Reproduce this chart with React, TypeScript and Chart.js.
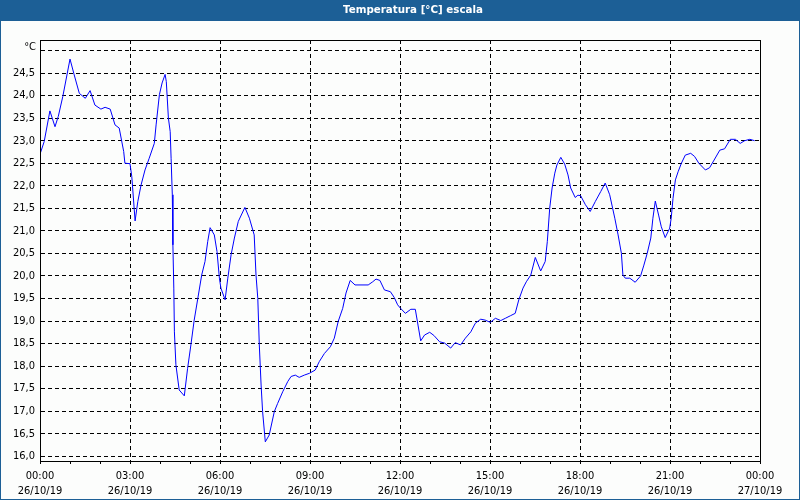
import React, { useEffect, useRef } from "react";
import { Chart, registerables } from "chart.js";

Chart.register(...registerables);

const TITLE = "Temperatura [°C] escala";
const UNIT_LABEL = "°C";
const DATE_START = "26/10/19";
const DATE_END = "27/10/19";

// hours since 26/10/19 00:00
const hours = [
  0.0, 0.14, 0.33, 0.5, 0.61, 0.76, 1.0, 1.14, 1.31, 1.51, 1.67, 1.83, 2.03, 2.17, 2.34, 2.5, 2.64, 2.79, 2.83, 3.0,
  3.06, 3.17, 3.26, 3.37, 3.5, 3.64, 3.81, 3.87, 3.98, 4.07, 4.17, 4.21, 4.28, 4.34, 4.37, 4.41, 4.43, 4.46, 4.48, 4.53,
  4.64, 4.81, 4.92, 5.03, 5.14, 5.26, 5.39, 5.5, 5.59, 5.67, 5.81, 5.9, 5.98, 6.03, 6.17, 6.26, 6.37, 6.48, 6.61, 6.83,
  6.98, 7.14, 7.2, 7.26, 7.31, 7.37, 7.42, 7.51, 7.64, 7.81, 7.92, 8.09, 8.26, 8.37, 8.51, 8.64, 8.81, 8.98, 9.17, 9.31,
  9.48, 9.68, 9.81, 9.94, 10.09, 10.2, 10.34, 10.5, 10.7, 10.94, 11.09, 11.2, 11.33, 11.48, 11.68, 11.81, 11.92, 12.02,
  12.18, 12.36, 12.51, 12.6, 12.69, 12.82, 12.99, 13.13, 13.32, 13.49, 13.69, 13.84, 14.02, 14.18, 14.36, 14.51, 14.69,
  14.84, 15.01, 15.18, 15.36, 15.51, 15.69, 15.84, 15.96, 16.1, 16.21, 16.36, 16.51, 16.69, 16.84, 16.91, 16.99, 17.07,
  17.16, 17.23, 17.36, 17.49, 17.6, 17.69, 17.84, 17.93, 18.02, 18.18, 18.34, 18.51, 18.69, 18.84, 18.99, 19.16, 19.27,
  19.38, 19.43, 19.51, 19.66, 19.84, 20.02, 20.13, 20.24, 20.36, 20.43, 20.51, 20.62, 20.71, 20.84, 20.99, 21.04, 21.1,
  21.18, 21.27, 21.38, 21.51, 21.69, 21.82, 21.96, 22.18, 22.32, 22.47, 22.66, 22.82, 23.01, 23.18, 23.34, 23.49, 23.66,
  23.82,
];

const temps = [
  22.7, 22.98, 23.66, 23.31, 23.54, 23.98, 24.81, 24.46, 24.05, 23.94, 24.11, 23.79, 23.7, 23.74, 23.7, 23.35, 23.28,
  22.76, 22.5, 22.49, 22.2, 21.22, 21.65, 22.02, 22.35, 22.61, 22.94, 23.35, 24.02, 24.28, 24.47, 24.31, 23.5, 23.2,
  22.61, 21.8, 20.69, 19.73, 18.76, 18.03, 17.47, 17.34, 17.95, 18.47, 19.02, 19.5, 20.02, 20.32, 20.76, 21.07, 20.91,
  20.54, 19.95, 19.73, 19.47, 19.95, 20.47, 20.84, 21.21, 21.52, 21.28, 20.91, 20.02, 19.5, 18.47, 17.58, 16.99, 16.32,
  16.47, 16.99, 17.17, 17.43, 17.66, 17.77, 17.8, 17.75, 17.8, 17.84, 17.91, 18.1, 18.28, 18.43, 18.62, 18.99, 19.28,
  19.62, 19.9, 19.8, 19.8, 19.8, 19.87, 19.93, 19.9, 19.69, 19.65, 19.52, 19.36, 19.28, 19.17, 19.26, 19.26, 18.91,
  18.56, 18.69, 18.75, 18.68, 18.54, 18.51, 18.4, 18.52, 18.47, 18.62, 18.76, 18.95, 19.04, 19.02, 18.97, 19.06, 19.01,
  19.06, 19.12, 19.17, 19.47, 19.73, 19.87, 20.02, 20.41, 20.11, 20.32, 20.76, 21.5, 21.95, 22.28, 22.46, 22.63, 22.48,
  22.24, 21.95, 21.74, 21.79, 21.78, 21.58, 21.43, 21.65, 21.87, 22.06, 21.8, 21.28, 20.91, 20.5, 20.02, 19.95, 19.95,
  19.86, 20.0, 20.24, 20.5, 20.84, 21.28, 21.66, 21.35, 21.09, 20.85, 21.06, 21.28, 21.72, 22.13, 22.31, 22.5, 22.68,
  22.72, 22.65, 22.5, 22.35, 22.4, 22.57, 22.79, 22.82, 23.03, 23.03, 22.94, 23.0, 23.03, 23.0,
];

const yTicks = [16, 16.5, 17, 17.5, 18, 18.5, 19, 19.5, 20, 20.5, 21, 21.5, 22, 22.5, 23, 23.5, 24, 24.5, 25];

const BLUE = "#1c5f96";
const BG = "#fcfdfc";
const FONT = "'DejaVu Sans Condensed', 'Liberation Sans', sans-serif";

const pad2 = (n: number) => (n < 10 ? "0" + n : "" + n);

export default function App() {
  const ref = useRef<HTMLCanvasElement | null>(null);

  useEffect(() => {
    const canvas = ref.current;
    if (!canvas) return;

    const framePlugin = {
      id: "frame",
      beforeDraw(chart: any) {
        const { ctx, width, height } = chart;
        ctx.save();
        ctx.fillStyle = BG;
        ctx.fillRect(0, 0, width, height);
        ctx.fillStyle = BLUE;
        ctx.fillRect(0, 0, width, 21);
        ctx.fillRect(0, 0, 1, height);
        ctx.fillRect(width - 1, 0, 1, height);
        ctx.fillRect(0, height - 1, width, 1);
        ctx.fillStyle = "#ffffff";
        ctx.font = "bold 11px 'DejaVu Sans', sans-serif";
        ctx.textAlign = "center";
        ctx.textBaseline = "middle";
        ctx.fillText(TITLE, 413, 10.5, 140);
        ctx.restore();
      },
      afterDraw(chart: any) {
        const { ctx, chartArea } = chart;
        const { left, top, right, bottom } = chartArea;
        ctx.save();
        ctx.strokeStyle = "#000";
        ctx.lineWidth = 1;
        ctx.setLineDash([]);
        ctx.strokeRect(left + 0.5, top + 0.5, right - left, bottom - top);
        ctx.fillStyle = "#000";
        ctx.font = "11px " + FONT;
        ctx.textAlign = "right";
        ctx.textBaseline = "middle";
        ctx.fillText(UNIT_LABEL, left - 4, top + 7);
        ctx.restore();
      },
    };

    const chart = new Chart(canvas, {
      type: "line",
      data: {
        datasets: [
          {
            data: hours.map((h, i) => ({ x: h, y: temps[i] })),
            borderColor: "#0000ff",
            borderWidth: 1,
            pointRadius: 0,
            tension: 0,
            fill: false,
          },
        ],
      },
      options: {
        responsive: false,
        animation: false,
        events: [],
        layout: { padding: { top: 40, right: 40, bottom: 0, left: 0 } },
        plugins: {
          legend: { display: false },
          title: { display: false },
          tooltip: { enabled: false },
        },
        scales: {
          x: {
            type: "linear",
            min: 0,
            max: 24,
            afterFit: (s: any) => {
              s.height = 39;
            },
            ticks: {
              stepSize: 1,
              autoSkip: false,
              maxRotation: 0,
              minRotation: 0,
              padding: 5,
              color: "#000",
              font: { family: FONT, size: 11, lineHeight: "15px" },
              callback: (v: any) => {
                const n = Number(v);
                if (n % 3 !== 0) return "";
                const hh = n % 24;
                return [pad2(hh) + ":00", n >= 24 ? DATE_END : DATE_START];
              },
            },
            grid: {
              drawTicks: true,
              tickLength: 3,
              tickColor: "#000",
              color: (c: any) => (c.tick && c.tick.value % 3 === 0 ? "#000" : "rgba(0,0,0,0)"),
              lineWidth: 1,
            },
            border: { display: true, color: "#000", width: 1, dash: [4, 3] },
          },
          y: {
            type: "linear",
            min: 15.895,
            max: 25.233,
            afterFit: (s: any) => {
              s.width = 40;
            },
            afterBuildTicks: (s: any) => {
              s.ticks = yTicks.map((v) => ({ value: v }));
            },
            ticks: {
              padding: 5,
              color: "#000",
              font: { family: FONT, size: 11 },
              callback: (v: any) => {
                const n = Number(v);
                if (n === 25) return "";
                return n.toFixed(1).replace(".", ",");
              },
            },
            grid: {
              drawTicks: false,
              color: "#000",
              lineWidth: 1,
            },
            border: { display: true, color: "#000", width: 1, dash: [4, 3] },
          },
        },
      },
      plugins: [framePlugin],
    } as any);

    return () => chart.destroy();
  }, []);

  return (
    <div style={{ position: "fixed", left: 0, top: 0, width: 800, height: 500 }}>
      <canvas ref={ref} width={800} height={500} style={{ display: "block", width: 800, height: 500 }} />
    </div>
  );
}
